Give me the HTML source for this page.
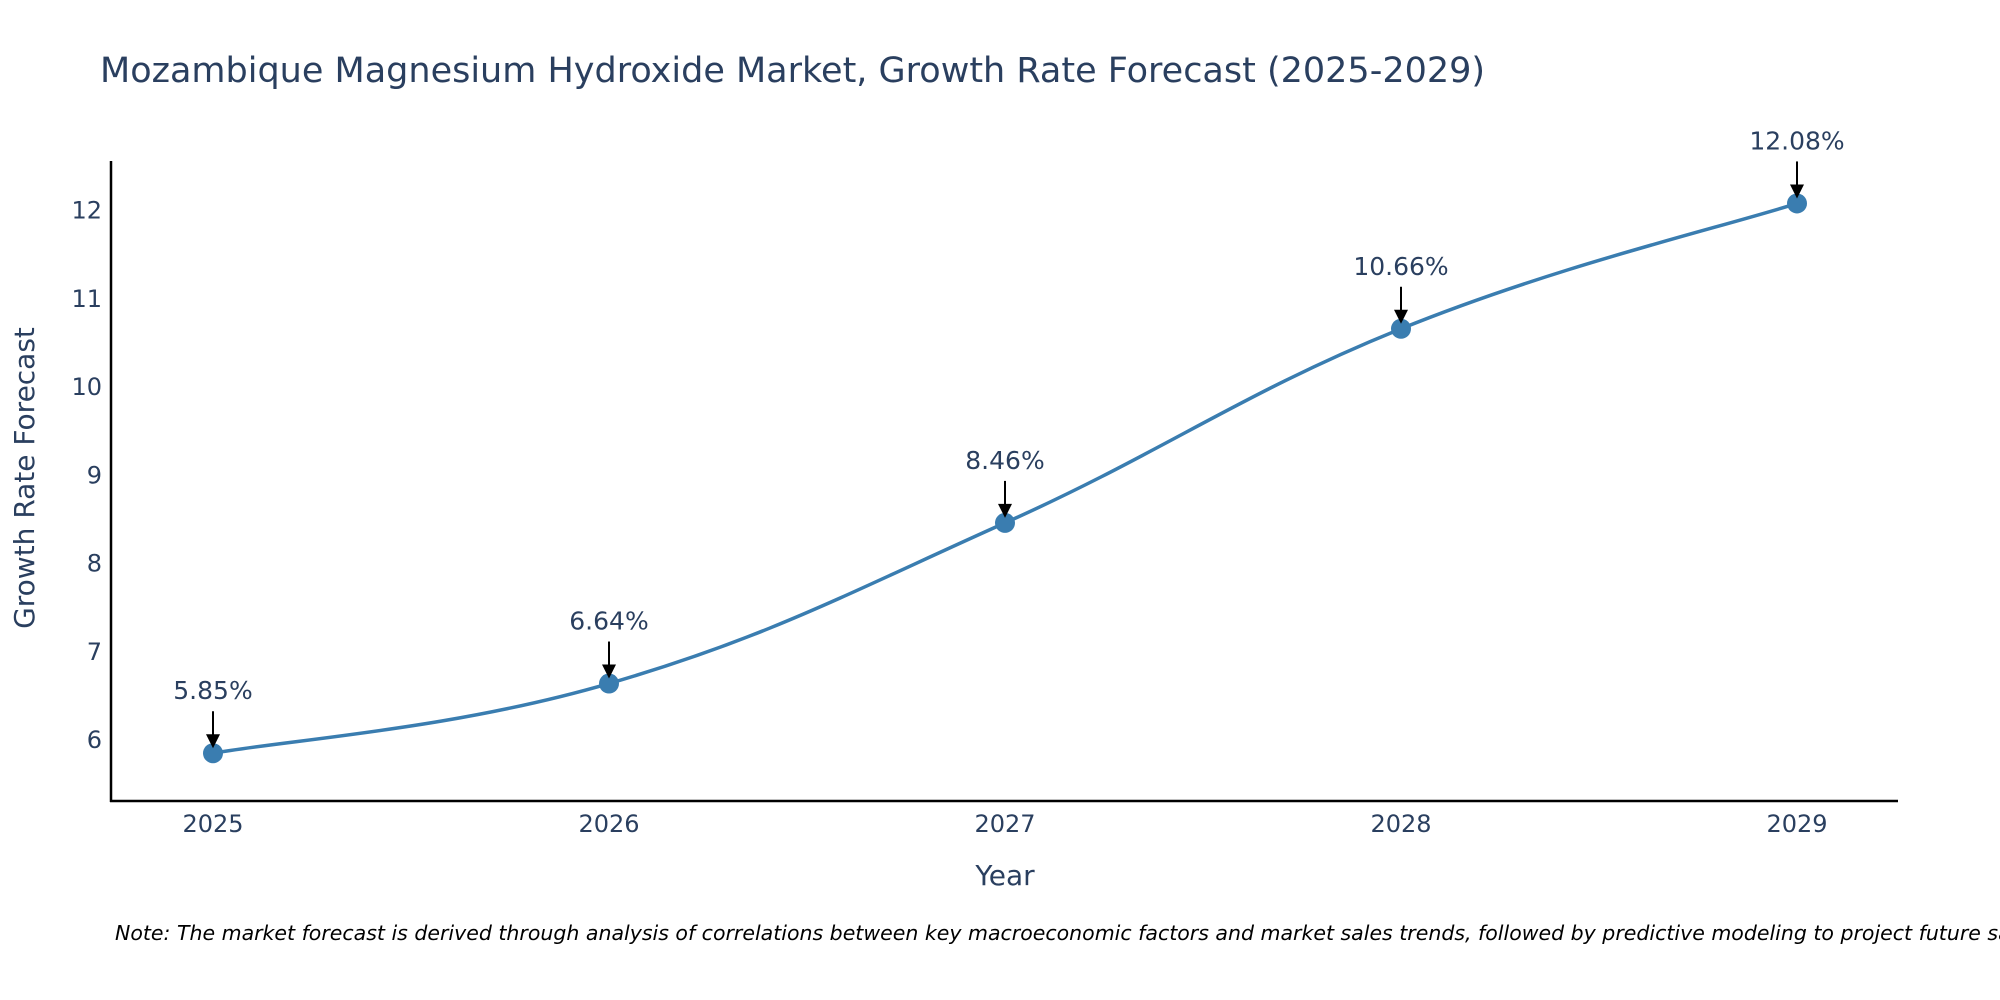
<!DOCTYPE html>
<html><head><meta charset="utf-8"><style>
body{margin:0;background:#fff;}
svg{display:block;font-family:"DejaVu Sans","Liberation Sans",sans-serif;}
</style></head><body>
<svg id="chart" width="2000" height="1000">
<text x="100" y="82" font-size="35" fill="#2a3f5f">Mozambique Magnesium Hydroxide Market, Growth Rate Forecast (2025-2029)</text>
<g id="yticks"></g>
<g id="xticks"></g>
<path id="line" fill="none" stroke="#3a7db0" stroke-width="3.5"></path>
<g id="points"></g>
<g id="annots"></g>
<line x1="111" y1="161" x2="111" y2="802" stroke="#000" stroke-width="2.5"></line>
<line x1="110" y1="801" x2="1898" y2="801" stroke="#000" stroke-width="2.5"></line>
<text transform="translate(34,478) rotate(-90)" text-anchor="middle" font-size="28" fill="#2a3f5f">Growth Rate Forecast</text>
<text x="1005" y="885" text-anchor="middle" font-size="28" fill="#2a3f5f">Year</text>
<text x="115" y="940" font-size="20.5" font-style="italic" fill="#000">Note: The market forecast is derived through analysis of correlations between key macroeconomic factors and market sales trends, followed by predictive modeling to project future sales</text>
</svg>
<script>
const years=[2025,2026,2027,2028,2029];
const values=[5.85,6.64,8.46,10.66,12.08];
const labels=["5.85%","6.64%","8.46%","10.66%","12.08%"];
const yTicks=[6,7,8,9,10,11,12];
const NS="http://www.w3.org/2000/svg";
function xs(v){return 213+(v-2025)*(1797-213)/4;}
function ys(v){return 740-(v-6)*88.25;}
function mk(t,a,p){const e=document.createElementNS(NS,t);for(const k in a)e.setAttribute(k,a[k]);p.appendChild(e);return e;}
const yg=document.getElementById('yticks');
yTicks.forEach(t=>{const e=mk('text',{x:102,y:ys(t)+8,'text-anchor':'end','font-size':'24',fill:'#2a3f5f'},yg);


e.textContent=t;});
const xg=document.getElementById('xticks');
years.forEach(y=>{const e=mk('text',{x:xs(y),y:832,'text-anchor':'middle','font-size':'24',fill:'#2a3f5f'},xg);


e.textContent=y;});
const P=years.map((y,i)=>[xs(y),ys(values[i])]);
let d='M'+P[0][0]+','+P[0][1];const s=0.2;
for(let i=0;i<P.length-1;i++){const p0=P[i-1]||P[i],p1=P[i],p2=P[i+1],p3=P[i+2]||P[i+1];
const c1=[p1[0]+(p2[0]-p0[0])*s,p1[1]+(p2[1]-p0[1])*s],c2=[p2[0]-(p3[0]-p1[0])*s,p2[1]-(p3[1]-p1[1])*s];
d+=' C'+c1+' '+c2+' '+p2;}
document.getElementById('line').setAttribute('d',d);
const pg=document.getElementById('points'),ag=document.getElementById('annots');
P.forEach((p,i)=>{const c=mk('circle',{cx:p[0],cy:p[1],r:10,fill:'#3a7db0'},pg);


const l=mk('line',{x1:p[0],y1:p[1]-42,x2:p[0],y2:p[1]-16,stroke:'#000','stroke-width':2},ag);


const h=mk('path',{d:`M${p[0]-7},${p[1]-19} L${p[0]+7},${p[1]-19} L${p[0]},${p[1]-5} Z`,fill:'#000'},ag);


const t=mk('text',{x:p[0],y:p[1]-54,'text-anchor':'middle','font-size':'25',fill:'#2a3f5f'},ag);


t.textContent=labels[i];});
</script>
</body></html>
